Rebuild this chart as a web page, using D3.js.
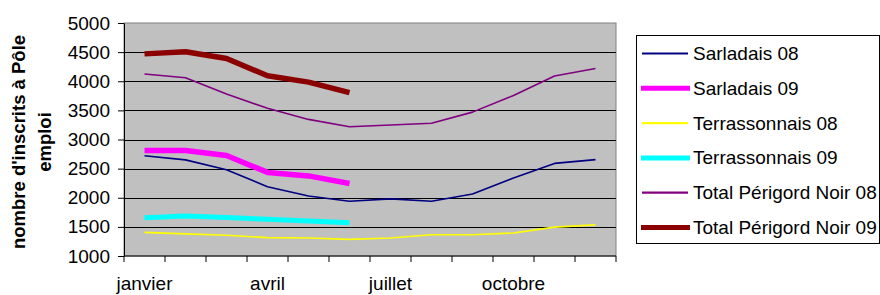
<!DOCTYPE html>
<html>
<head>
<meta charset="utf-8">
<script src="https://cdn.jsdelivr.net/npm/d3@7"></script>
<style>
  body { margin: 0; background: #fff; }
  svg { display: block; font-family: "Liberation Sans", Arial, sans-serif; }
</style>
</head>
<body>
<svg id="chart" width="880" height="295"></svg>
<script>
const months = ['janvier', 'février', 'mars', 'avril', 'mai', 'juin',
  'juillet', 'août', 'septembre', 'octobre', 'novembre', 'décembre'];
const shownMonths = ['janvier', 'avril', 'juillet', 'octobre'];
const yTicks = [1000, 1500, 2000, 2500, 3000, 3500, 4000, 4500, 5000];

const sarladais08 = [2720, 2650, 2480, 2190, 2030, 1940, 1980, 1940, 2065, 2340, 2590, 2655];
const sarladais09 = [2810, 2810, 2725, 2435, 2375, 2245];
const terrassonnais08 = [1405, 1380, 1355, 1315, 1310, 1285, 1310, 1365, 1365, 1395, 1495, 1535];
const terrassonnais09 = [1655, 1685, 1660, 1630, 1600, 1570];
const total08 = [4125, 4060, 3780, 3535, 3345, 3220, 3250, 3280, 3470, 3755, 4090, 4220];
const total09 = [4470, 4505, 4390, 4095, 3985, 3805];

const seriesNames = ['Sarladais 08', 'Sarladais 09', 'Terrassonnais 08',
  'Terrassonnais 09', 'Total Périgord Noir 08', 'Total Périgord Noir 09'];

// styles for each series, same order as the names
const styles = [
  {color: '#000080', width: 1.6},
  {color: '#ff00ff', width: 5.5},
  {color: '#ffff00', width: 1.6},
  {color: '#00ffff', width: 5},
  {color: '#800080', width: 1.6},
  {color: '#8b0000', width: 5.5}
];

const series = [sarladais08, sarladais09, terrassonnais08, terrassonnais09, total08, total09]
  .map((values, i) => ({name: seriesNames[i], values: values, style: styles[i]}));

const margin = {top: 23, right: 264, bottom: 39, left: 124};
const svg = d3.select('#chart');
const width = +svg.attr('width') - margin.left - margin.right;
const height = +svg.attr('height') - margin.top - margin.bottom;
const fontSize = 19;

function translate(x, y) {
  return `translate(${x}, ${y})`;
}

const x = d3.scaleBand().domain(months).range([0, width]);
const y = d3.scaleLinear().domain([1000, 5000]).range([height, 0]);

const g = svg.append('g').attr('transform', translate(margin.left, margin.top));

// plot background
g.append('rect')
  .attr('width', width)
  .attr('height', height)
  .attr('fill', '#c0c0c0')
  .attr('stroke', '#808080')
  .attr('stroke-width', 1);

// gridlines
g.append('g')
  .selectAll('line')
  .data(yTicks.filter(t => t > 1000 && t < 5000))
  .join('line')
    .attr('x1', 0)
    .attr('x2', width)
    .attr('y1', d => Math.round(y(d)) + 0.5)
    .attr('y2', d => Math.round(y(d)) + 0.5)
    .attr('stroke', '#000')
    .attr('stroke-width', 1);

// y axis
const yAxis = g.append('g')
  .attr('class', 'y axis')
  .call(d3.axisLeft(y).tickValues(yTicks).tickFormat(d3.format('d'))
    .tickSize(6).tickSizeOuter(0).tickPadding(8));
yAxis.selectAll('text').attr('font-size', fontSize).attr('fill', '#000');
yAxis.selectAll('line, path').attr('stroke', '#000');

// x axis: ticks on band boundaries, labels only for some months
const xAxisG = g.append('g')
  .attr('class', 'x axis')
  .attr('transform', translate(0, height));
xAxisG.append('line')
  .attr('x1', 0).attr('x2', width)
  .attr('stroke', '#000');
xAxisG.selectAll('.tick-mark')
  .data(months.concat(['end']))
  .join('line')
    .attr('class', 'tick-mark')
    .attr('x1', (d, i) => i < months.length ? x(d) : width)
    .attr('x2', (d, i) => i < months.length ? x(d) : width)
    .attr('y1', 0)
    .attr('y2', 6)
    .attr('stroke', '#000');
xAxisG.selectAll('.month')
  .data(shownMonths)
  .join('text')
    .attr('class', 'month')
    .attr('x', d => x(d) + x.bandwidth() / 2)
    .attr('y', 34)
    .attr('text-anchor', 'middle')
    .attr('font-size', fontSize)
    .text(d => d);

// y axis title
const title = svg.append('text')
  .attr('transform', translate(25, 142) + ' rotate(-90)')
  .attr('text-anchor', 'middle')
  .attr('font-size', 18.5)
  .attr('font-weight', 'bold');
title.append('tspan').attr('x', 0).attr('y', 0).text("nombre d'inscrits à Pôle");
title.append('tspan').attr('x', 0).attr('y', 26).text('emploi');

// lines
const line = d3.line()
  .x((d, i) => x(months[i]) + x.bandwidth() / 2)
  .y(d => y(d));

g.selectAll('.line')
  .data(series)
  .join('path')
    .attr('class', 'line')
    .attr('fill', 'none')
    .attr('stroke', s => s.style.color)
    .attr('stroke-width', s => s.style.width)
    .attr('stroke-linejoin', 'round')
    .attr('d', s => line(s.values));

// legend
const legend = svg.append('g').attr('transform', translate(636, 35));
legend.append('rect')
  .attr('x', 0.5).attr('y', 0.5)
  .attr('width', 243).attr('height', 208)
  .attr('fill', '#fff')
  .attr('stroke', '#000');

const items = legend.selectAll('.item')
  .data(series)
  .join('g')
    .attr('class', 'item')
    .attr('transform', (s, i) => translate(0, 18.5 + i * 34.8));
items.append('line')
  .attr('x1', s => s.style.width > 3 ? 5 : 6)
  .attr('x2', s => s.style.width > 3 ? 54 : 52)
  .attr('stroke', s => s.style.color)
  .attr('stroke-width', s => s.style.width > 3 ? 5 : 2.2);
items.append('text')
  .attr('x', 57)
  .attr('y', 6.5)
  .attr('font-size', fontSize)
  .text(s => s.name);
</script>
</body>
</html>
